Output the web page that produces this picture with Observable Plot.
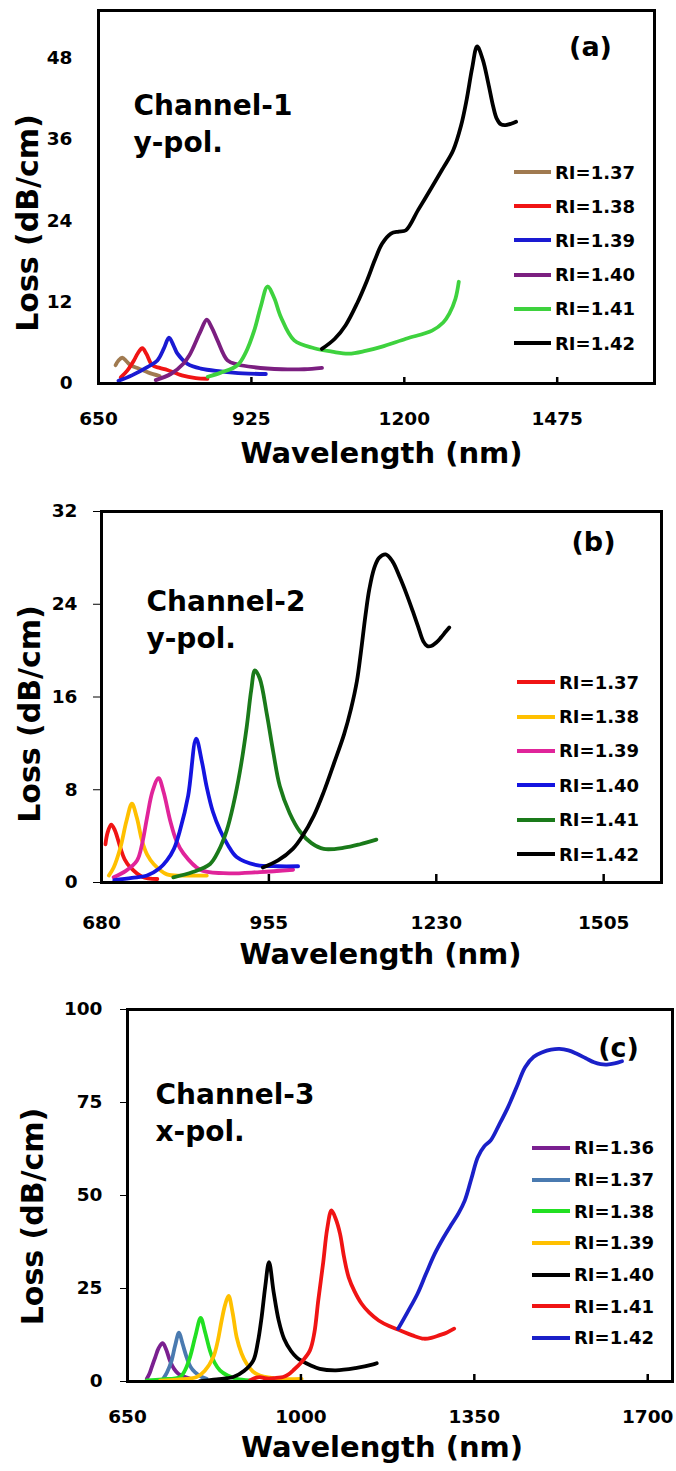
<!DOCTYPE html>
<html><head><meta charset="utf-8">
<script src="https://cdn.jsdelivr.net/npm/d3@7"></script>
<script src="https://cdn.jsdelivr.net/npm/@observablehq/plot@0.6"></script>
<style>
body{margin:0;background:#fff;}
.panel{position:relative;width:676px;overflow:hidden;}
.panel svg{display:block;}
.legend{position:absolute;font-family:"DejaVu Sans";font-weight:bold;font-size:18px;color:#000;}
.row{display:flex;align-items:center;white-space:nowrap;}
.sw{height:4px;margin-right:4px;}
</style></head><body><div id="root"></div>
<script>
const FONT = "DejaVu Sans";

// ---------- Panel (a): Channel-1, y-pol. ----------
const aWavelengthTicks = [650, 925, 1200, 1475];
const aLossTicks = [0, 12, 24, 36, 48];
const aSeries = ["RI=1.37", "RI=1.38", "RI=1.39", "RI=1.40", "RI=1.41", "RI=1.42"];
const aColors = ["#a07a50", "#f01414", "#1a1ad2", "#7b1f80", "#3ed23e", "#000000"];
const aRI137 = [[680.7,2.7],[686,3.4],[692.7,3.8],[700,3.3],[707.7,2.7],[722,2.2],[740,1.6],[760,1.1]];
const aRI138 = [[690,0.9],[701.7,1.9],[713.7,3.4],[721,4.5],[728.8,5.2],[736,4.4],[746.8,2.7],[760,2.3],[773.9,2.0],[800,1.2],[825,0.8],[846,0.7]];
const aRI139 = [[686,0.4],[710,1.2],[737.8,2.4],[755.9,3.4],[767.8,5.2],[776.8,6.75],[785,5.6],[792,4.4],[810,2.9],[834,2.2],[870,1.8],[910,1.5],[951,1.4]];
const aRI140 = [[753,0.5],[780,1.4],[803,2.95],[813,4.1],[821,5.4],[833,7.6],[844.8,9.4],[854,8.2],[864,6.35],[882,3.4],[900,2.8],[929.5,2.4],[980,2.1],[1020,2.1],[1052,2.3]];
const aRI141 = [[846.6,1.0],[870,1.6],[900,2.7],[915,4.6],[930,7.8],[942,11.4],[954,14.3],[966,12.6],[978,9.8],[1002,6.35],[1038,5.2],[1070,4.7],[1100,4.4],[1130,4.8],[1158.6,5.4],[1203,6.6],[1250,7.8],[1270,9.0],[1281,10.3],[1292,12.5],[1298,15.0]];
const aRI142 = [[1051.8,5.1],[1075,6.6],[1094.5,8.6],[1115,11.8],[1133,15.2],[1147,18.2],[1160,20.6],[1176,22.1],[1190,22.4],[1203,22.6],[1225,25.6],[1250,29],[1270,31.8],[1288,34.4],[1302,38],[1312,41.8],[1322,46.5],[1331,49.7],[1341,47.8],[1351,44.3],[1360,40.8],[1366,39.1],[1374,38.2],[1382,38.1],[1392,38.3],[1401,38.6]];

// ---------- Panel (b): Channel-2, y-pol. ----------
const bWavelengthTicks = [680, 955, 1230, 1505];
const bLossTicks = [0, 8, 16, 24, 32];
const bSeries = ["RI=1.37", "RI=1.38", "RI=1.39", "RI=1.40", "RI=1.41", "RI=1.42"];
const bColors = ["#f01414", "#ffc000", "#e0249a", "#1414e0", "#1a7a1a", "#000000"];
const bRI137 = [[686.5,3.3],[690,4.3],[695.9,5.0],[702,4.5],[711,3.0],[718,2.0],[727.5,1.3],[746.6,0.5],[771.7,0.3]];
const bRI138 = [[692,0.6],[700,1.3],[711,3.0],[721,5.3],[730,6.8],[738,5.6],[746.6,3.6],[755,2.4],[765.6,1.6],[787.5,0.7],[820,0.6],[853,0.6]];
const bRI139 = [[700,0.45],[720,1.0],[738.4,1.9],[747,3.4],[754.8,5.6],[764,7.9],[773.8,9.0],[782,7.8],[793,5.3],[803,3.6],[814.7,2.5],[842,1.1],[880,0.8],[940,0.9],[994.8,1.1]];
const bRI140 = [[701,0.2],[730,0.4],[754.8,0.6],[775,1.2],[787.5,1.9],[799,2.9],[809,4.5],[822.4,7.5],[835.5,12.4],[845,10.4],[853,8.2],[863,6.1],[874.8,4.5],[888,3.2],[902,2.2],[934.9,1.5],[970,1.4],[1003,1.4]];
const bRI141 = [[798,0.45],[830,0.9],[858.4,1.6],[872,2.7],[885.8,4.5],[897,6.8],[907.5,9.6],[918.5,13.4],[926,16.6],[932,18.3],[940,17.6],[951.7,14.5],[962,11.3],[973,8.3],[989,6.0],[1006,4.4],[1025,3.4],[1045,2.9],[1078.6,3.0],[1105,3.3],[1131.5,3.7]];
const bRI142 = [[945,1.3],[970,1.9],[994.3,2.9],[1010,4.0],[1028.7,5.75],[1045,7.8],[1062.4,10.35],[1078.6,12.8],[1090,15.0],[1099.7,17.4],[1106,19.8],[1113.8,23.1],[1120,25.3],[1127.9,27.1],[1136,28.0],[1146.9,28.3],[1158,27.7],[1170.3,26.3],[1181,24.9],[1191.4,23.4],[1200,22.1],[1208.7,20.8],[1215,20.4],[1221.7,20.4],[1230,20.7],[1237.2,21.1],[1245,21.6],[1251.3,22.0]];

// ---------- Panel (c): Channel-3, x-pol. ----------
const cWavelengthTicks = [650, 1000, 1350, 1700];
const cLossTicks = [0, 25, 50, 75, 100];
const cSeries = ["RI=1.36", "RI=1.37", "RI=1.38", "RI=1.39", "RI=1.40", "RI=1.41", "RI=1.42"];
const cColors = ["#7a2090", "#4a7ab0", "#22e022", "#ffc000", "#000000", "#f01414", "#1a20c8"];
const cRI136 = [[688.7,0.7],[694,2.0],[698.8,3.8],[706,6.5],[713,9.0],[721,10.3],[728,8.6],[735.7,5.6],[744,3.4],[752.5,2.1],[776,0.8]];
const cRI137 = [[722,0.7],[730,2.5],[739,5.6],[746,9.6],[754,13.1],[761,10.2],[769.4,6.5],[777,4.0],[786,2.5],[800,1.2],[809.8,0.7]];
const cRI138 = [[688.7,0.3],[720,0.6],[756,1.2],[766,3.0],[776,6.5],[787,12.2],[797.7,17.1],[806,13.6],[816.4,8.3],[826,5.0],[836.6,3.0],[852,1.6],[870.3,0.7],[897,0.3]];
const cRI139 = [[715.6,0.2],[750,0.5],[789.6,1.2],[806,2.9],[823,6.5],[832,10.8],[840,16.4],[847,20.6],[854,23.0],[862,18.6],[870.3,11.9],[880,7.6],[890.5,4.75],[903,2.7],[917.3,1.6],[957.6,0.7],[1001.4,0.7]];
const cRI140 = [[796,0.1],[830,0.6],[863.4,1.2],[885,2.8],[903.8,5.6],[913,10.5],[920.7,17.3],[928,25.5],[935.6,32.1],[945,24],[955,16.5],[966,11.5],[980,8.2],[991.3,6.5],[1001,5.6],[1020,4.3],[1038,3.4],[1070.5,3.0],[1110,3.6],[1146,4.6],[1153,4.9]];
const cRI141 = [[897,0.3],[907,0.9],[917.3,1.2],[927,0.9],[937.5,0.8],[950,1.0],[964,1.2],[975,1.9],[984.5,3.0],[1001,5.2],[1018,8.3],[1027,13],[1035,21.8],[1045,32],[1053,41],[1061.7,46.0],[1070,43.8],[1079,39.7],[1087,33.5],[1096.4,28.0],[1108,24.3],[1122.5,20.9],[1138,18.5],[1157,16.4],[1178,14.9],[1200.7,13.7],[1225,12.4],[1248.4,11.5],[1265,11.8],[1278.8,12.4],[1295,13.2],[1309.3,14.2]];
const cRI142 = [[1196.3,14.2],[1215,18.6],[1235.4,23.6],[1252,28.8],[1270,34.3],[1287,38.5],[1304.8,42.4],[1318,45.2],[1330.9,48.7],[1344,54.5],[1357,60.3],[1370,63.2],[1383,64.8],[1400,69],[1417.8,73.7],[1435,79],[1452.5,84.5],[1470,87.3],[1487.4,88.5],[1505,89.2],[1522,89.4],[1540,89.0],[1556.8,88.1],[1575,86.9],[1591.5,85.8],[1605,85.3],[1617.5,85.2],[1633,85.5],[1648,86.1]];

const panels = [
  {
    series: aSeries, colors: aColors, data: [aRI137, aRI138, aRI139, aRI140, aRI141, aRI142],
    xTicks: aWavelengthTicks, yTicks: aLossTicks, xDomain: [650, 1650], yDomain: [0, 55],
    height: 480, mt: 10, mb: 97, ml: 98, mr: 22,
    xPad: 28, yTick: 0, yPad: 26, xTickLen: 6,
    channel: "Channel-1\ny-pol.", chDx: 35, chDy: 111, tag: "(a)", tagDx: 492, tagDy: 37,
    yLabDx: -70, yLabDy: 26, xLabDx: 5, xLabDy: 70,
    legLeft: 514, legTop: 172 - 17, legRow: 34.2, swW: 37
  },
  {
    series: bSeries, colors: bColors, data: [bRI137, bRI138, bRI139, bRI140, bRI141, bRI142],
    xTicks: bWavelengthTicks, yTicks: bLossTicks, xDomain: [680, 1600], yDomain: [0, 32],
    height: 495, mt: 31, mb: 93, ml: 101, mr: 15,
    xPad: 33, yTick: 8, yPad: 16, xTickLen: 8,
    channel: "Channel-2\ny-pol.", chDx: 45, chDy: 106, tag: "(b)", tagDx: 492, tagDy: 31,
    yLabDx: -71, yLabDy: 17, xLabDx: -1, xLabDy: 72,
    legLeft: 517, legTop: 202 - 17, legRow: 34.4, swW: 38
  },
  {
    series: cSeries, colors: cColors, data: [cRI136, cRI137, cRI138, cRI139, cRI140, cRI141, cRI142],
    xTicks: cWavelengthTicks, yTicks: cLossTicks, xDomain: [650, 1750], yDomain: [0, 100],
    height: 496, mt: 34, mb: 90, ml: 127, mr: 4,
    xPad: 28, yTick: 7, yPad: 18, xTickLen: 7,
    channel: "Channel-3\nx-pol.", chDx: 28, chDy: 101, tag: "(c)", tagDx: 491, tagDy: 39,
    yLabDx: -94, yLabDy: 21, xLabDx: -18, xLabDy: 66,
    legLeft: 532, legTop: 173 - 16, legRow: 31.7, swW: 38
  }
];

const root = document.getElementById("root");
for (const p of panels) {
  const rows = p.series.flatMap((s, i) => p.data[i].map(([nm, loss]) => ({s, nm, loss})));
  const frameH = p.height - p.mt - p.mb;
  const chart = Plot.plot({
    width: 676, height: p.height,
    marginTop: p.mt, marginBottom: p.mb, marginLeft: p.ml, marginRight: p.mr,
    style: {fontFamily: FONT, fontWeight: "bold", fontSize: "18.5px", color: "#000", background: "#fff", overflow: "visible"},
    x: {domain: p.xDomain, ticks: p.xTicks, tickSize: 0, tickPadding: p.xPad, tickFormat: d => String(d), label: null},
    y: {domain: p.yDomain, ticks: p.yTicks, tickSize: p.yTick, tickPadding: p.yPad, tickFormat: d => String(d), label: null},
    color: {domain: p.series, range: p.colors},
    marks: [
      Plot.line(rows, {x: "nm", y: "loss", z: "s", stroke: "s", strokeWidth: 3.8, curve: "catmull-rom", strokeLinecap: "round", strokeLinejoin: "round"}),
      Plot.ruleX(p.xTicks, {x: d => d, insetTop: frameH - p.xTickLen, stroke: "#000", strokeWidth: 2.5}),
      Plot.frame({stroke: "#000", strokeWidth: 3}),
      Plot.text([p.channel], {frameAnchor: "top-left", dx: p.chDx, dy: p.chDy, textAnchor: "start", lineAnchor: "middle", fontSize: 28, lineHeight: 1.32, fill: "#000"}),
      Plot.text([p.tag], {frameAnchor: "top-left", dx: p.tagDx, dy: p.tagDy, textAnchor: "middle", lineAnchor: "middle", fontSize: 27, fill: "#000"}),
      Plot.text(["Loss (dB/cm)"], {frameAnchor: "left", dx: p.yLabDx, dy: p.yLabDy, rotate: -90, textAnchor: "middle", lineAnchor: "middle", fontSize: 30, fill: "#000"}),
      Plot.text(["Wavelength (nm)"], {frameAnchor: "bottom", dx: p.xLabDx, dy: p.xLabDy, textAnchor: "middle", lineAnchor: "middle", fontSize: 29, fill: "#000"})
    ]
  });
  const div = document.createElement("div");
  div.className = "panel";
  div.style.height = p.height + "px";
  div.appendChild(chart);
  const leg = document.createElement("div");
  leg.className = "legend";
  leg.style.left = p.legLeft + "px";
  leg.style.top = p.legTop + "px";
  p.series.forEach((s, i) => {
    const r = document.createElement("div");
    r.className = "row";
    r.style.height = p.legRow + "px";
    const sw = document.createElement("span");
    sw.className = "sw";
    sw.style.width = p.swW + "px";
    sw.style.background = p.colors[i];
    const t = document.createElement("span");
    t.textContent = s;
    r.appendChild(sw); r.appendChild(t);
    leg.appendChild(r);
  });
  div.appendChild(leg);
  root.appendChild(div);
}
</script></body></html>
